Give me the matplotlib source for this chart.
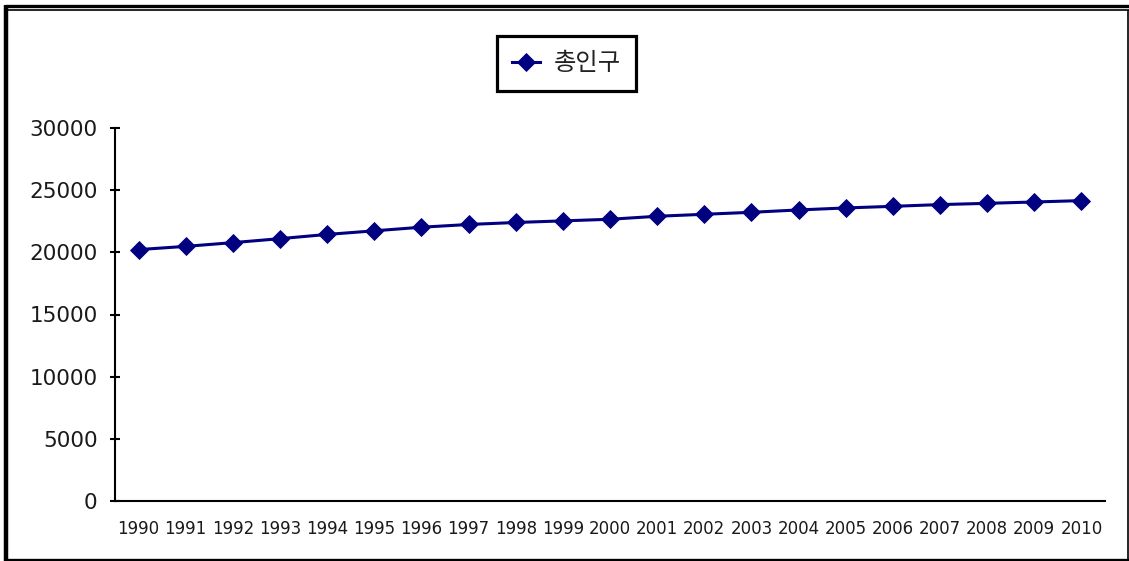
import matplotlib
matplotlib.use("Agg")
import matplotlib.pyplot as plt
from matplotlib.lines import Line2D

# Total population by year
years = [str(y) for y in range(1990, 2011)]
population = [20220, 20480, 20780, 21100, 21440, 21730, 22020, 22240, 22400, 22530,
              22660, 22900, 23060, 23220, 23410, 23570, 23700, 23840, 23940, 24050, 24160]
series_name = "총인구"
y_ticks = [0, 5000, 10000, 15000, 20000, 25000, 30000]

W, H = 1129, 561
fig = plt.figure(figsize=(W / 100, H / 100), dpi=100)
fig.patch.set_facecolor("white")

def fx(px):
    return px / W

def fy(py):
    return 1 - py / H

ax = fig.add_axes([fx(115), fy(501), fx(1105) - fx(115), fy(128) - fy(501)])

x = list(range(len(years)))
ax.plot(x, population, color="#000080", lw=2.2, marker="D", markersize=9,
        markeredgewidth=0.6, markerfacecolor="#000080", markeredgecolor="#000080",
        label=series_name, solid_joinstyle="miter")

ax.set_xlim(-0.5, len(years) - 0.5)
ax.set_ylim(0, 30000)
ax.set_yticks(y_ticks)
ax.set_yticklabels([str(v) for v in y_ticks])
ax.set_xticks(x)
ax.set_xticklabels(years)

for side in ("top", "right"):
    ax.spines[side].set_visible(False)
for side in ("left", "bottom"):
    ax.spines[side].set_linewidth(1.5)
    ax.spines[side].set_color("black")

ax.tick_params(axis="y", direction="inout", length=7, width=1.5, pad=9,
               labelsize=15.5, labelcolor="#1a1a1a")
ax.tick_params(axis="x", length=0, pad=14, labelsize=12, labelcolor="#1a1a1a")

leg = ax.legend(loc="center", bbox_to_anchor=(fx(566.5), fy(63.5)),
                bbox_transform=fig.transFigure,
                prop={"family": ["Noto Sans CJK KR", "DejaVu Sans"], "size": 17.5},
                frameon=True, fancybox=False, framealpha=1.0,
                handlelength=1.15, handletextpad=0.6,
                borderpad=0.6, borderaxespad=0)
leg.get_frame().set_edgecolor("black")
leg.get_frame().set_linewidth(2.3)
for t in leg.get_texts():
    t.set_color("#222222")

# Outer frame around the chart
frame = [
    ((5, 1129), (6.3, 6.3), 2.4),
    ((8, 1129), (10.2, 10.2), 1.2),
    ((6, 6), (5, 561), 3.2),
    ((1128, 1128), (10, 561), 1.2),
    ((5, 1129), (559.5, 559.5), 2.4),
]
for xs, ys, lw in frame:
    fig.add_artist(Line2D([fx(v) for v in xs], [fy(v) for v in ys],
                          transform=fig.transFigure, color="black", lw=lw,
                          solid_capstyle="butt"))

fig.savefig("out.png", dpi=100, facecolor="white")
